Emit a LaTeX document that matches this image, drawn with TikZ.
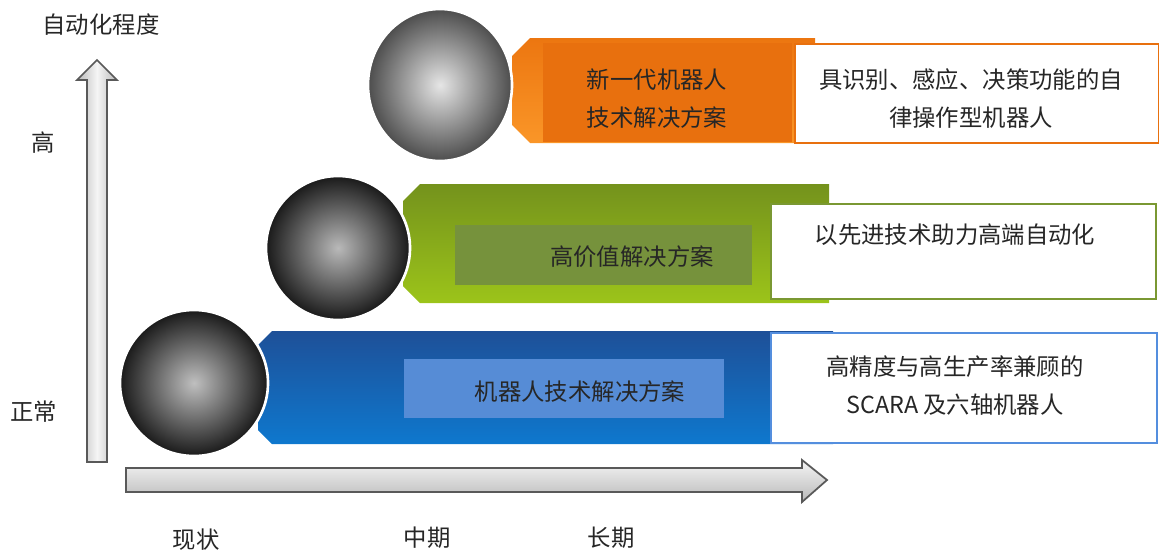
\documentclass[tikz,border=0pt]{standalone}
\usepackage{fontspec}
\newfontfamily\cjk{Noto Sans CJK SC}
\usepackage{tikz}

\definecolor{orgDark}{RGB}{232,112,14}
\definecolor{orgTop}{RGB}{236,118,16}
\definecolor{orgBot}{RGB}{250,150,40}
\definecolor{grnBox}{RGB}{118,146,60}
\definecolor{grnTop}{RGB}{116,146,28}
\definecolor{grnBot}{RGB}{156,196,26}
\definecolor{grnLine}{RGB}{122,152,50}
\definecolor{bluBox}{RGB}{86,140,214}
\definecolor{bluTop}{RGB}{30,80,152}
\definecolor{bluBot}{RGB}{14,120,206}
\definecolor{bluLine}{RGB}{84,142,222}

\begin{document}
\begin{tikzpicture}[x=0.02cm,y=-0.02cm,
    lbl/.style={font=\cjk\fontsize{13.3}{21.6}\selectfont, text=black!85, align=center, inner sep=0pt},
    innerbox/.style={inner sep=0pt, anchor=north west},
    infobox/.style={fill=white, line width=1.1pt, inner sep=0pt, anchor=north west},
    photo/.style={draw=white, line width=1.5pt},
    axis/.style={draw=black!65, line width=1pt}]

  \useasboundingbox (0,0) rectangle (1159,552);

  % axes
  \shade[axis, left color=gray!55, right color=gray!55, middle color=gray!8]
    (87,462) -- (87,80) -- (77,80) -- (97,60) -- (117,80) -- (107,80) -- (107,462) -- cycle;
  \shade[axis, top color=gray!8, bottom color=gray!55]
    (126,468) -- (802,468) -- (802,460) -- (827,480) -- (802,502) -- (802,492) -- (126,492) -- cycle;

  \node[lbl] (yname)  at (101,25)  {自动化程度};
  \node[lbl] (high)   at (43,143)  {高};
  \node[lbl] (normal) at (34,412)  {正常};
  \node[lbl] (now)    at (196,540) {现状};
  \node[lbl] (mid)    at (427,538) {中期};
  \node[lbl] (long)   at (611,538) {长期};

  % orange band
  \shade[top color=orgTop, bottom color=orgBot]
    (530,38) -- (815,38) -- (815,143) -- (530,143) -- (512,125) -- (512,56) -- cycle;
  \node[innerbox, fill=orgDark, minimum width=4.98cm, minimum height=1.98cm] (newbox) at (543,43) {};
  \node[infobox, draw=orgDark, minimum width=7.28cm, minimum height=1.98cm] (newinfo) at (794,43) {};
  \node[lbl] (newsol)  at (657,99) {新一代机器人\\技术解决方案};
  \node[lbl] (newtext) at (971,99) {具识别、感应、决策功能的自\\律操作型机器人};
  \path[photo, inner color=gray!20, outer color=black!70] (440,85) ellipse [x radius=72, y radius=76];

  % green band
  \shade[top color=grnTop, bottom color=grnBot]
    (420,184) -- (829,184) -- (829,303) -- (420,303) -- (403,286) -- (403,201) -- cycle;
  \node[innerbox, fill=grnBox, minimum width=5.94cm, minimum height=1.2cm] (valbox) at (455,225) {};
  \node[infobox, draw=grnLine, minimum width=7.7cm, minimum height=1.9cm] (valinfo) at (770,203) {};
  \node[lbl] (valsol)  at (632,257) {高价值解决方案};
  \node[lbl] (valtext) at (955,235) {以先进技术助力高端自动化};
  \path[photo, inner color=gray!55, outer color=black!90] (338,248) ellipse [x radius=72, y radius=72];

  % blue band
  \shade[top color=bluTop, bottom color=bluBot]
    (272,331) -- (833,331) -- (833,444) -- (272,444) -- (258,430) -- (258,345) -- cycle;
  \node[innerbox, fill=bluBox, minimum width=6.4cm, minimum height=1.18cm] (robbox) at (404,359) {};
  \node[infobox, draw=bluLine, minimum width=7.72cm, minimum height=2.2cm] (robinfo) at (770,332) {};
  \node[lbl] (robsol)  at (580,392) {机器人技术解决方案};
  \node[lbl] (robtext) at (955,386) {高精度与高生产率兼顾的\\SCARA 及六轴机器人};
  \path[photo, inner color=gray!50, outer color=black!90] (194,383) ellipse [x radius=74, y radius=73];

\end{tikzpicture}
\end{document}
